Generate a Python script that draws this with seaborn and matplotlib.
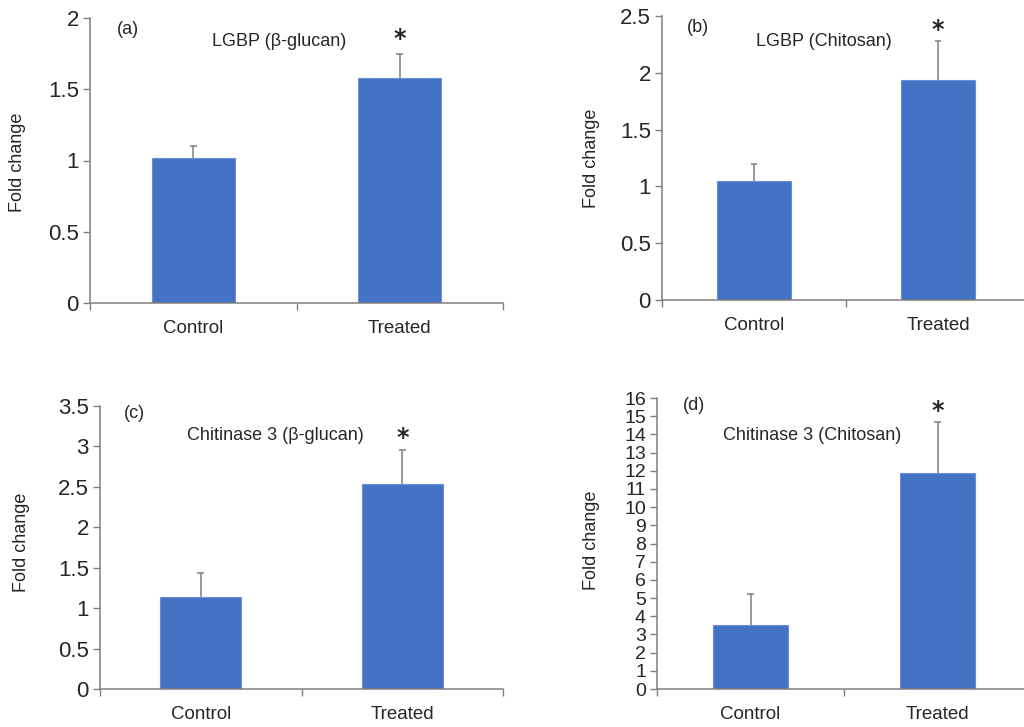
import matplotlib
matplotlib.use("Agg")
import matplotlib.pyplot as plt
import seaborn as sns
import numpy as np

sns.set_style("white")
plt.rcParams['font.family'] = ['Liberation Sans', 'DejaVu Sans']

groups = ['Control', 'Treated']

# fold change means and upper error (SD) per panel
lgbp_glucan = [1.02, 1.58]
lgbp_glucan_err = [0.08, 0.17]
lgbp_chitosan = [1.05, 1.94]
lgbp_chitosan_err = [0.15, 0.34]
chi3_glucan = [1.14, 2.54]
chi3_glucan_err = [0.29, 0.41]
chi3_chitosan = [3.5, 11.9]
chi3_chitosan_err = [1.75, 2.8]

panels = [
    ('(a)', 'LGBP (β-glucan)', lgbp_glucan, lgbp_glucan_err, [0, 0.5, 1, 1.5, 2], ['0', '0.5', '1', '1.5', '2']),
    ('(b)', 'LGBP (Chitosan)', lgbp_chitosan, lgbp_chitosan_err, [0, 0.5, 1, 1.5, 2, 2.5], ['0', '0.5', '1', '1.5', '2', '2.5']),
    ('(c)', 'Chitinase 3 (β-glucan)', chi3_glucan, chi3_glucan_err, [0, 0.5, 1, 1.5, 2, 2.5, 3, 3.5], ['0', '0.5', '1', '1.5', '2', '2.5', '3', '3.5']),
    ('(d)', 'Chitinase 3 (Chitosan)', chi3_chitosan, chi3_chitosan_err, list(range(17)), [str(i) for i in range(17)]),
]

W, H = 1024, 727
def fx(x):
    return x / W
def fy(y):
    return 1 - y / H

# axes boxes in pixels: left, top, right, bottom
boxes = [(90, 18, 503, 303), (662, 16, 1030, 300), (100, 406, 503, 689), (657, 398, 1031, 689)]
tag_pos = [(128, 30), (698, 28), (134, 413), (694, 405)]
title_pos = [(279, 42), (824, 42), (275, 435), (812, 435)]
ylab_pos = [(18, 162), (592, 158), (22, 542), (592, 540)]
star_off = [0.1, 0.1, 0.15, 0.6]

fig = plt.figure(figsize=(10.24, 7.27), dpi=100)
grey = '#7f7f7f'
txt = '#262626'

for i, (tag, title, vals, errs, ticks, tlabels) in enumerate(panels):
    l, t, r, b = boxes[i]
    ax = fig.add_axes([fx(l), fy(b), fx(r) - fx(l), fy(t) - fy(b)])
    sns.barplot(x=groups, y=vals, color='#4472C4', width=0.4, saturation=1,
                edgecolor='#6a8fd6', linewidth=0.8, ax=ax, errorbar=None)
    # upper-only error bars with a small cap
    xs = np.arange(len(groups))
    tops = np.array(vals) + np.array(errs)
    ax.vlines(xs, vals, tops, color=grey, lw=1.1, zorder=3)
    ax.hlines(tops, xs - 0.018, xs + 0.018, color=grey, lw=1.1, zorder=3)
    ax.set_xlim(-0.5, 1.5)
    ax.set_ylim(0, ticks[-1])
    ax.set_yticks(ticks)
    ax.set_yticklabels(tlabels)
    for s in ['top', 'right']:
        ax.spines[s].set_visible(False)
    for s in ['left', 'bottom']:
        ax.spines[s].set_color(grey)
        ax.spines[s].set_linewidth(1.1)
        ax.spines[s].set_zorder(3)
    fs = 14 if i == 3 else 16
    ax.tick_params(axis='y', direction='out', length=5, width=1, color=grey,
                   labelsize=fs, pad=3, left=True, labelcolor=txt)
    ax.tick_params(axis='x', length=0, labelsize=13.5, pad=12, labelcolor=txt)
    ax.set_xticks([-0.5, 0.5, 1.5], minor=True)
    ax.tick_params(axis='x', which='minor', direction='out', length=5, width=1,
                   color=grey, bottom=True)
    ax.set_xlabel('')
    ax.set_ylabel('')
    ax.text(1, tops[1] + star_off[i], '*', ha='center', va='center',
            fontsize=17, fontweight='bold', color=txt, family='DejaVu Sans')
    fig.text(fx(tag_pos[i][0]), fy(tag_pos[i][1]), tag, ha='center', va='center', fontsize=13, color=txt)
    fig.text(fx(title_pos[i][0]), fy(title_pos[i][1]), title, ha='center', va='center', fontsize=13, color=txt)
    fig.text(fx(ylab_pos[i][0]), fy(ylab_pos[i][1]), 'Fold change', ha='center', va='center',
             rotation=90, fontsize=13, color=txt)

fig.savefig('out.png', dpi=100)
